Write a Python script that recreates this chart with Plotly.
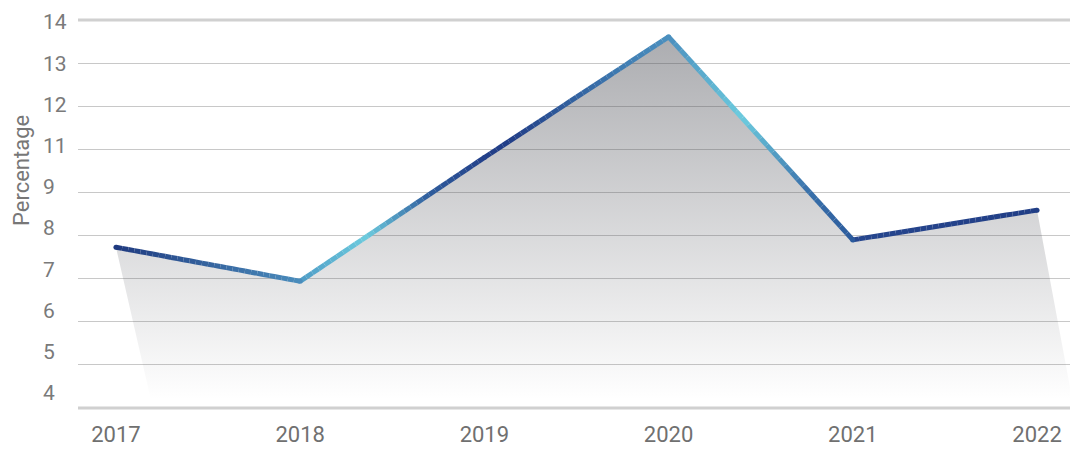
import numpy as np
import plotly.graph_objects as go

years = [2017, 2018, 2019, 2020, 2021, 2022]
percent = [8.73, 7.94, 10.81, 13.61, 8.90, 9.59]
grid_values = [5, 6, 7, 8, 9, 10, 11, 12, 13, 14]
label_text = ['4', '5', '6', '7', '8', '9', '11', '12', '13', '14']

W, H = 1070, 450
LEFT = 78

# colour stops along each segment of the line (style only)
seg_stops = [
    [(0, '#1f3a80'), (1, '#4a8cbc')],
    [(0, '#4f9cc6'), (0.36, '#6ccbde'), (0.7, '#2f5c9c'), (1, '#23418a')],
    [(0, '#223f88'), (0.15, '#223f88'), (0.75, '#3f7cb2'), (1, '#4b90bf')],
    [(0, '#4b90bf'), (0.4, '#6ccbde'), (0.75, '#3a72ab'), (1, '#2b5a9c')],
    [(0, '#26468e'), (1, '#213e86')],
]


def hex_rgb(h):
    return np.array([int(h[i:i + 2], 16) for i in (1, 3, 5)], dtype=float)


def color_at(stops, t):
    for (t0, c0), (t1, c1) in zip(stops[:-1], stops[1:]):
        if t <= t1:
            f = 0 if t1 == t0 else (t - t0) / (t1 - t0)
            c = hex_rgb(c0) * (1 - f) + hex_rgb(c1) * f
            return 'rgb(%d,%d,%d)' % tuple(c.round())
    c = hex_rgb(stops[-1][1])
    return 'rgb(%d,%d,%d)' % tuple(c)


fig = go.Figure()

# shaded area, skewed at the base
fig.add_trace(go.Scatter(
    x=years + [years[-1] + 0.2, years[0] + 0.2],
    y=percent + [grid_values[0], grid_values[0]],
    fill='toself', mode='none',
    fillgradient=dict(type='vertical',
                      colorscale=[[0, 'rgba(74,76,84,0)'], [1, 'rgba(74,76,84,0.46)']],
                      start=5.2, stop=max(percent)),
    hoverinfo='skip', showlegend=False,
))

# gradient line, drawn piece by piece
pieces = 30
for i in range(len(years) - 1):
    for k in range(pieces):
        a, b = k / pieces, (k + 1) / pieces
        xs = [years[i] + (years[i + 1] - years[i]) * a, years[i] + (years[i + 1] - years[i]) * b]
        ys = [percent[i] + (percent[i + 1] - percent[i]) * a, percent[i] + (percent[i + 1] - percent[i]) * b]
        fig.add_trace(go.Scatter(
            x=xs, y=ys, mode='lines',
            line=dict(color=color_at(seg_stops[i], (a + b) / 2), width=5),
            hoverinfo='skip', showlegend=False,
        ))

joint_colors = [seg_stops[0][0][1]] + [s[-1][1] for s in seg_stops]
fig.add_trace(go.Scatter(
    x=years, y=percent, mode='markers',
    marker=dict(size=5, color=joint_colors, line=dict(width=0)),
    hovertemplate='%{x}: %{y}<extra></extra>', showlegend=False,
))

# carrier for the label axis
fig.add_trace(go.Scatter(x=[years[0]], y=[0], yaxis='y2', mode='markers',
                         marker=dict(opacity=0), hoverinfo='skip', showlegend=False))

for v in (grid_values[0], grid_values[-1]):
    fig.add_shape(type='line', xref='x domain', x0=0, x1=1, yref='y', y0=v, y1=v,
                  line=dict(color='#d0d0d0', width=3), layer='below')

fig.update_layout(
    width=W, height=H,
    margin=dict(l=0, r=0, t=10, b=40, autoexpand=False),
    plot_bgcolor='white', paper_bgcolor='white',
    font=dict(family='Roboto', color='#777777'),
    xaxis=dict(
        domain=[LEFT / W, 1], range=[2016.794, 2022.179], automargin=False,
        tickvals=years, ticktext=[str(y) for y in years],
        showgrid=False, zeroline=False, showline=False, ticks='',
        tickfont=dict(size=22, color='#707070'), ticklabelstandoff=9,
    ),
    yaxis=dict(
        range=[4.954, 14.232], tickvals=grid_values[1:-1], automargin=False,
        showgrid=True, gridcolor='#c8c8c8', gridwidth=1.3,
        showticklabels=False, zeroline=False, ticks='',
    ),
    yaxis2=dict(
        overlaying='y', side='right', anchor='free', position=42 / W, automargin=False,
        range=[-0.413, 9.291], tickvals=list(range(len(label_text))), ticktext=label_text,
        showgrid=False, zeroline=False, showline=False, ticks='',
        tickfont=dict(size=21, color='#7a7a7a'),
    ),
    annotations=[dict(
        text='Percentage', xref='paper', yref='paper', x=21 / W, y=(410 - 171) / 400,
        xanchor='center', yanchor='middle', textangle=-90, showarrow=False,
        font=dict(size=22, color='#777777'),
    )],
)

fig.write_html('out.html', config={'displayModeBar': False},
               post_script="document.body.style.margin='0';")
